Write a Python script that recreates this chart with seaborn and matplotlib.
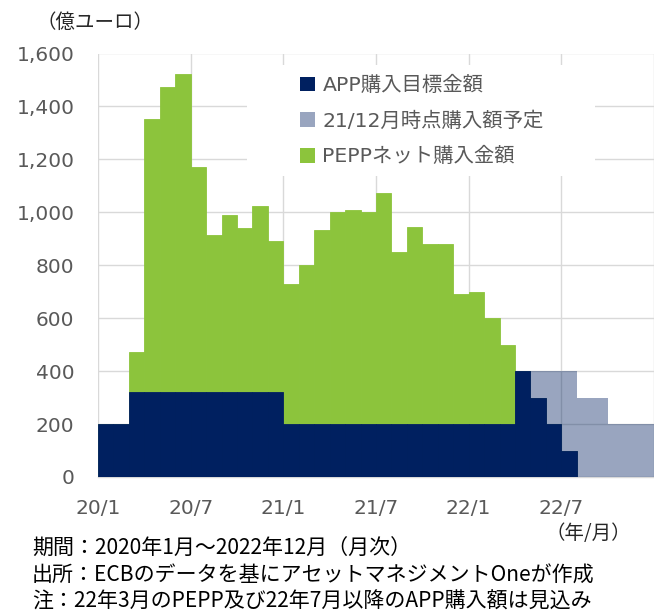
import numpy as np
import pandas as pd
import seaborn as sns
import matplotlib.pyplot as plt
from matplotlib.patches import Patch, Rectangle
from matplotlib.ticker import FuncFormatter

# 月次データ（2020/1～2022/12）、単位：億ユーロ
months = [f"{y}/{m}" for y in (20, 21, 22) for m in range(1, 13)]

app_target = [200, 200, 320, 320, 320, 320, 320, 320, 320, 320, 320, 320,
              200, 200, 200, 200, 200, 200, 200, 200, 200, 200, 200, 200,
              200, 200, 200, 400, 300, 200, 100, 0, 0, 0, 0, 0]
plan_2112 = [0, 0, 0, 0, 0, 0, 0, 0, 0, 0, 0, 0,
             0, 0, 0, 0, 0, 0, 0, 0, 0, 0, 0, 0,
             0, 0, 0, 400, 400, 400, 400, 300, 300, 200, 200, 200]
pepp_net = [0, 0, 151, 1032, 1153, 1202, 850, 596, 668, 619, 705, 571,
            528, 600, 735, 800, 807, 800, 873, 650, 746, 679, 679, 493,
            498, 402, 299, 0, 0, 0, 0, 0, 0, 0, 0, 0]

tick_labels = ["20/1", "20/7", "21/1", "21/7", "22/1", "22/7", ""]
series_names = ["APP購入目標金額", "21/12月時点購入額予定", "PEPPネット購入金額"]

NAVY = "#002060"
GREEN = "#8CC43C"
GRID = "#D9D9D9"
TXT = "#595959"

df = pd.DataFrame({"month": months, "app": app_target,
                   "plan": plan_2112, "pepp": pepp_net})
df["total"] = df["app"] + df["pepp"]

sns.set_style("white")
plt.rcParams['font.family'] = ['DejaVu Sans', 'Noto Sans CJK JP']

fig = plt.figure(figsize=(6.54, 6.13), dpi=100)
ax = fig.add_axes([98 / 654, 136 / 613, 556 / 654, 423.5 / 613])

common = dict(x="month", saturation=1, width=1, errorbar=None, ax=ax)
sns.barplot(data=df, y="total", color=GREEN, edgecolor=GREEN, linewidth=0.6,
            zorder=2, **common)
sns.barplot(data=df, y="app", color=NAVY, edgecolor=NAVY, linewidth=0.6,
            zorder=3, **common)
sns.barplot(data=df, y="plan", color=NAVY, alpha=0.4, linewidth=0,
            zorder=4, **common)

ax.set_xlim(-0.5, 35.5)
ax.set_ylim(0, 1600)
ax.set_xticks([-0.5, 5.5, 11.5, 17.5, 23.5, 29.5, 35.5])
ax.set_xticklabels(tick_labels)
ax.set_yticks(range(0, 1601, 200))
ax.yaxis.set_major_formatter(FuncFormatter(lambda v, p: f"{int(v):,}"))
ax.set_xlabel("")
ax.set_ylabel("")

ax.set_axisbelow(True)
ax.grid(True, axis="both", color=GRID, lw=1)
for s in ["top", "right", "left"]:
    ax.spines[s].set_visible(False)
ax.spines["bottom"].set_color(GRID)
ax.spines["bottom"].set_linewidth(1)
ax.tick_params(axis="x", length=4, width=1, color=GRID, pad=12,
               labelsize=14.5, labelcolor=TXT, direction="out")
ax.tick_params(axis="y", length=0, pad=17, labelsize=14.5, labelcolor=TXT)

# 凡例の白い背景
ax.add_artist(Rectangle((247 / 654, 1 - 176 / 613), 348 / 654, 111 / 613,
                        transform=fig.transFigure, facecolor="white",
                        edgecolor="none", zorder=0.8))

handles = [Patch(facecolor=NAVY, edgecolor="none", label=series_names[0]),
           Patch(facecolor=NAVY, alpha=0.4, edgecolor="none", label=series_names[1]),
           Patch(facecolor=GREEN, edgecolor="none", label=series_names[2])]
ax.legend(handles=handles, loc="upper left",
          bbox_to_anchor=(300 / 654, 1 - 76 / 613), bbox_transform=fig.transFigure,
          frameon=False, fontsize=14.7, labelcolor=TXT,
          handlelength=0.75, handleheight=0.75, handletextpad=0.35,
          labelspacing=0.8, borderpad=0, borderaxespad=0)

fig.text(36 / 654, 1 - 22 / 613, "（億ユーロ）", ha="left", va="center",
         fontsize=14, color="#262626", family=["Noto Sans CJK JP"])
fig.text(588 / 654, 1 - 534 / 613, "（年/月）", ha="center", va="center",
         fontsize=14, color="#262626", family=["Noto Sans CJK JP"])

notes = ["期間：2020年1月～2022年12月（月次）",
         "出所：ECBのデータを基にアセットマネジメントOneが作成",
         "注：22年3月のPEPP及び22年7月以降のAPP購入額は見込み"]
for i, line in enumerate(notes):
    fig.text(32 / 654, 1 - (549 + 26.5 * i) / 613, line, ha="left", va="center",
             fontsize=15.1, color="black", family=["Noto Sans CJK JP"])

fig.savefig("out.png", dpi=100)
